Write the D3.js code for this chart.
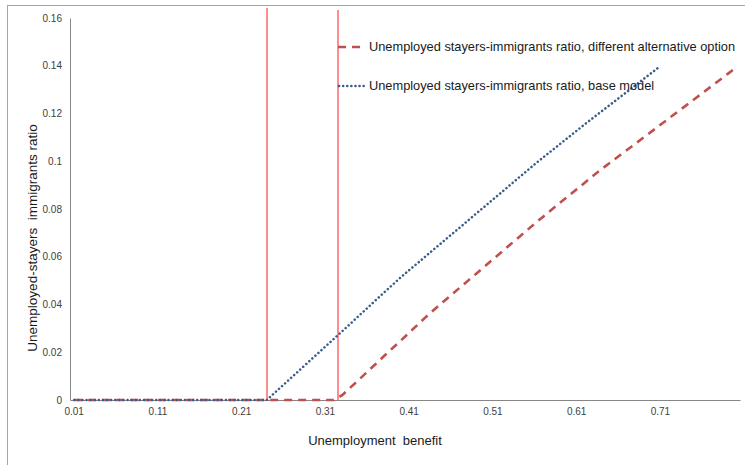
<!DOCTYPE html>
<html><head><meta charset="utf-8">
<script src="https://cdn.jsdelivr.net/npm/d3@7"></script>
<style>body{margin:0;background:#fff;}svg{display:block;font-family:"Liberation Sans",Arial,sans-serif;}</style>
</head><body><svg id="c" width="745" height="465"></svg>
<script>
// categories: unemployment benefit 0.01 .. 0.80
const categories = d3.range(1, 81).map(d => +(d / 100).toFixed(2));
const tickLabels = ["0.01","0.11","0.21","0.31","0.41","0.51","0.61","0.71"];
const yTicks = [0, 0.02, 0.04, 0.06, 0.08, 0.1, 0.12, 0.14, 0.16];
const thresholds = [0.24, 0.3245];
const seriesNames = ["Unemployed stayers-immigrants ratio, different alternative option",
                     "Unemployed stayers-immigrants ratio, base model"];
// alternative option (0.01..0.80)
const altValues = [
 0,0,0,0,0,0,0,0,0,0, 0,0,0,0,0,0,0,0,0,0, 0,0,0,0,0,0,0,0,0,0, 0,0,
 0.0020,0.0053,0.0085,0.0118,0.0151,0.0184,0.0217,0.0249,0.0282,0.0315,0.0348,
 0.0379,0.0409,0.0439,0.0469,0.0499,0.0529,0.0559,0.0589,0.0619,0.0649,0.0679,0.0709,0.0739,0.0768,
 0.0797,0.0826,0.0854,0.0883,0.0911,0.0940,0.0968,
 0.0994,0.1021,0.1047,0.1073,0.1100,0.1126,0.1153,0.1179,0.1206,0.1232,0.1259,0.1285,0.1312,0.1338,0.1365,0.1392
];
// base model (0.01..0.71)
const baseValues = [
 0,0,0,0,0,0,0,0,0,0, 0,0,0,0,0,0,0,0,0,0, 0,0,0,0,
 0.0032,0.0064,0.0096,0.0128,0.0160,0.0192,0.0224,0.0256,0.0288,0.0320,0.0353,0.0385,0.0418,0.0450,0.0482,0.0514,
 0.0544,0.0573,0.0603,0.0633,0.0662,0.0692,0.0721,0.0751,0.0781,0.0810,0.0840,0.0869,0.0899,0.0929,0.0958,0.0988,
 0.1016,0.1044,0.1072,0.1100,0.1128,0.1156,
 0.1183,0.1210,0.1237,0.1264,0.1291,0.1318,0.1345,0.1372,0.1399
];

const svg = d3.select("#c");
const L = 70, R = 740, T = 18, B = 400;

// outer frame
svg.append("rect").attr("x", 7.5).attr("y", 5.5).attr("width", 800).attr("height", 500)
  .attr("fill", "none").attr("stroke", "#a6a6a6").attr("stroke-width", 1);

const xb = d3.scaleBand().domain(categories).range([L, R]);
const xc = d => xb(d) + xb.bandwidth() / 2;
const xLin = d3.scaleLinear().domain([categories[0], categories[categories.length-1]])
  .range([xc(categories[0]), xc(categories[categories.length-1])]);
const y = d3.scaleLinear().domain([0, 0.16]).range([B, T]);

// y axis
const yAxis = svg.append("g").attr("transform", `translate(${L},0)`)
  .call(d3.axisLeft(y).tickValues(yTicks).tickSize(0).tickPadding(8).tickFormat(d => d3.format("")(+d.toFixed(2))));
yAxis.select(".domain").attr("stroke", "#868686");
yAxis.selectAll("text").attr("font-size", 10).attr("fill", "#404040").attr("font-family", "Liberation Sans, Arial");

// x axis
const xAxis = svg.append("g").attr("transform", `translate(0,${B})`)
  .call(d3.axisBottom(xb).tickValues(categories.filter(c => tickLabels.includes(c.toFixed(2))))
    .tickSize(0).tickPadding(8).tickFormat(d => d.toFixed(2)));
xAxis.select(".domain").attr("stroke", "#868686");
xAxis.selectAll("text").attr("font-size", 10).attr("fill", "#404040").attr("font-family", "Liberation Sans, Arial");

// threshold lines
svg.append("g").selectAll("line.thr").data(thresholds).join("line")
  .attr("class", "thr")
  .attr("x1", d => Math.round(xLin(d))).attr("x2", d => Math.round(xLin(d)))
  .attr("y1", (d, i) => i ? 10 : 8).attr("y2", B)
  .attr("stroke", "#ff5050").attr("stroke-width", 1.3);

const line = d3.line().x((d, i) => xc(categories[i])).y(d => y(d));

svg.append("path").datum(altValues).attr("d", line)
  .attr("fill", "none").attr("stroke", "#c0504d").attr("stroke-width", 2.6)
  .attr("stroke-dasharray", "8,6");
svg.append("path").datum(baseValues).attr("d", line)
  .attr("fill", "none").attr("stroke", "#385d8a").attr("stroke-width", 2.5)
  .attr("stroke-linecap", "round").attr("stroke-dasharray", "0.1,4");

// legend
const leg = svg.append("g");
const legY = [47, 86];
leg.append("line").attr("x1", 338).attr("x2", 364).attr("y1", legY[0]).attr("y2", legY[0])
  .attr("stroke", "#c0504d").attr("stroke-width", 2.6).attr("stroke-dasharray", "8,6");
leg.append("line").attr("x1", 339).attr("x2", 364).attr("y1", legY[1]).attr("y2", legY[1])
  .attr("stroke", "#385d8a").attr("stroke-width", 2.5).attr("stroke-linecap", "round").attr("stroke-dasharray", "0.1,4");
leg.selectAll("text").data(seriesNames).join("text")
  .attr("x", 369).attr("y", (d, i) => legY[i]).attr("dy", "0.35em")
  .attr("font-size", 12.8).attr("fill", "#1a1a1a").text(d => d);

// axis titles
svg.append("text").attr("x", 375).attr("y", 445).attr("text-anchor", "middle")
  .attr("font-size", 13).attr("fill", "#1a1a1a")
  .style("white-space", "pre").text("Unemployment  benefit");
svg.append("text").attr("transform", "translate(37,238) rotate(-90)").attr("text-anchor", "middle")
  .attr("font-size", 13.5).attr("fill", "#1a1a1a")
  .style("white-space", "pre").text("Unemployed-stayers  immigrants ratio");
</script></body></html>
